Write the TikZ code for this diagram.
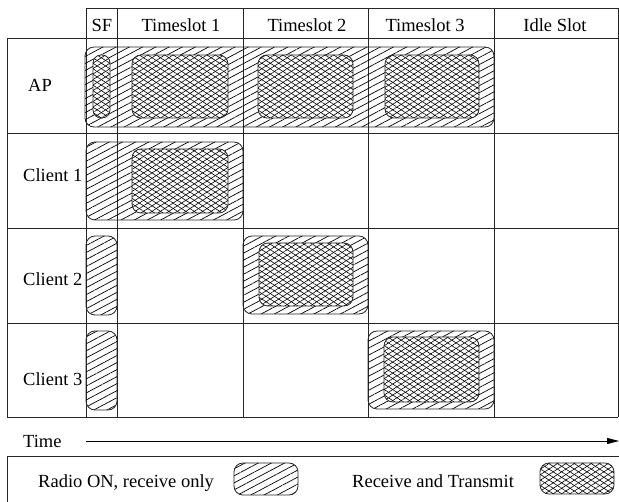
\documentclass[tikz,border=0pt]{standalone}
\usepackage{fontspec}
\setmainfont{Liberation Serif}
\usetikzlibrary{patterns.meta,arrows.meta}

\begin{document}
\begin{tikzpicture}[x=1pt,y=-1pt,
  gridline/.style={draw=black!85, line width=0.9pt},
  lbl/.style={font=\fontsize{18.5}{22}\selectfont, inner sep=0pt},
  recvbox/.style={draw=black!85, line width=0.8pt, rounded corners=9pt,
    pattern={Lines[angle=28,distance=6.2pt,line width=0.7pt]}, pattern color=black},
  trxbox/.style={draw=black!85, line width=0.8pt, rounded corners=9pt,
    preaction={fill=white},
    preaction={pattern={Lines[angle=33,distance=4.6pt,line width=0.6pt]}, pattern color=black},
    pattern={Lines[angle=-33,distance=4.6pt,line width=0.6pt]}, pattern color=black}
]
\useasboundingbox (0,0) rectangle (619,502);
\clip (0,0) rectangle (619,502);

% schedule grid
\draw[gridline] (86,8) -- (618,8);
\draw[gridline] (7,38) -- (618,38);
\foreach \y in {133,228,323,417} \draw[gridline] (7,\y) -- (618,\y);
\draw[gridline] (7,38) -- (7,417);
\foreach \x in {86,117,243,368,494,618} \draw[gridline] (\x,8) -- (\x,417);

% column headers
\node[lbl, anchor=base] (hsf) at (102,32) {SF};
\node[lbl, anchor=base] (hts1) at (181,32) {Timeslot 1};
\node[lbl, anchor=base] (hts2) at (307,32) {Timeslot 2};
\node[lbl, anchor=base] (hts3) at (425,32) {Timeslot 3};
\node[lbl, anchor=base] (hidle) at (555,32) {Idle Slot};

% row labels
\node[lbl, anchor=base] (rap) at (40,92) {AP};
\node[lbl, anchor=base east] (rc1) at (82.5,182) {Client 1};
\node[lbl, anchor=base east] (rc2) at (82.5,286) {Client 2};
\node[lbl, anchor=base east] (rc3) at (82.5,386) {Client 3};

% AP: radio on through the whole frame, transmitting in SF and every timeslot
\path[recvbox] (85,47) rectangle (494,127);
\path[trxbox, rounded corners=8pt] (93,55) rectangle (110,118);
\path[trxbox] (132,55) rectangle (228,118);
\path[trxbox] (258,55) rectangle (353,118);
\path[trxbox] (385,55) rectangle (479,118);

% Client 1
\path[recvbox] (86,142) rectangle (243,220);
\path[trxbox] (132,149) rectangle (228,213);

% Client 2
\path[recvbox] (86,236) rectangle (117,315);
\path[recvbox] (243,236) rectangle (368,314);
\path[trxbox] (259,243) rectangle (353,306);

% Client 3
\path[recvbox] (86,331) rectangle (117,410);
\path[recvbox] (368,331) rectangle (494,409);
\path[trxbox] (384,337) rectangle (479,402);

% time axis
\node[lbl, anchor=base west] (time) at (23,448) {Time};
\coordinate (tstart) at (86,441);
\coordinate (tend) at (619,441);
\draw[line width=0.8pt, -{Triangle[length=12pt,width=6pt]}] (tstart) -- (tend);

% legend
\draw[gridline] (7,520) -- (7,456) -- (630,456);
\node[lbl, anchor=base west] (lrecv) at (38,488) {Radio ON, receive only};
\path[recvbox] (234,463) rectangle (298,495);
\node[lbl, anchor=base west] (ltrx) at (352,488) {Receive and Transmit};
\path[trxbox] (540,463) rectangle (614,494);
\end{tikzpicture}
\end{document}
